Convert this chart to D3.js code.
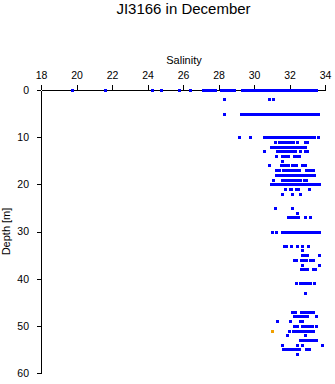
<!DOCTYPE html>
<html>
<head>
<meta charset="utf-8">
<script src="https://cdn.jsdelivr.net/npm/d3@7"></script>
<style>
  html, body { margin: 0; padding: 0; background: #fff; }
  svg { display: block; font-family: "Liberation Sans", Arial, Helvetica, sans-serif; }
</style>
</head>
<body>
<svg id="chart" width="335" height="384"></svg>
<script>
// Salinity profile samples, grouped by depth level (m)
const depthLevels = [0, 2, 5, 10, 11, 12, 13, 14, 15, 16, 17, 18, 19, 20, 21, 22,
  25, 26, 27, 30, 33, 34, 35, 36, 37, 38, 41, 43, 47, 48, 49, 50, 51, 52, 53, 54, 55, 56];

const salinityByDepth = [
  [19.75, 21.58, 24.25, 24.76, 25.75, 26.41, 27.1, 27.25, 27.4, 27.55, 27.7, 27.8, 28.12, 28.27, 28.42, 28.57, 28.72, 28.9,
   29.35, 29.5, 29.65, 29.8, 29.95, 30.1, 30.25, 30.4, 30.55, 30.7, 30.85, 31.0, 31.15, 31.3, 31.45, 31.6, 31.75, 31.9,
   32.05, 32.2, 32.35, 32.5, 32.65, 32.8, 32.95, 33.1, 33.25, 33.4, 33.47],
  [28.29, 30.82, 31.05],
  [28.29, 29.25, 29.46, 29.6, 29.75, 29.9, 30.05, 30.2, 30.35, 30.5, 30.65, 30.8, 30.95, 31.1, 31.25, 31.4, 31.55, 31.7,
   31.85, 32.0, 32.15, 32.3, 32.45, 32.6, 32.75, 32.9, 33.05, 33.2, 33.35, 33.5, 33.6],
  [29.17, 29.8, 30.54, 30.7, 30.85, 31.0, 31.15, 31.3, 31.45, 31.6, 31.75, 31.9, 32.05, 32.2, 32.35, 32.5, 32.65, 32.8,
   32.95, 33.1, 33.25, 33.4, 33.6],
  [31.2, 31.4, 31.55, 31.7, 31.85, 32.0, 32.15, 32.2, 32.42, 32.9, 33.0],
  [30.95, 31.1, 31.25, 31.4, 31.55, 31.7, 31.85, 32.0, 32.15, 32.3, 32.45, 32.6, 32.75, 32.85],
  [30.56, 31.28, 31.43, 31.58, 31.73, 31.88, 32.03, 32.18, 32.33, 32.59, 32.88, 32.98],
  [31.22, 31.6, 31.75, 31.9, 32.27, 32.4, 32.52],
  [31.57],
  [30.83, 31.52, 31.67, 31.82, 31.9, 32.13, 32.28, 32.38, 32.68, 32.82, 32.9],
  [31.22, 31.39, 31.63, 31.78, 31.93, 32.08, 32.23, 32.38, 32.52, 32.92, 33.07, 33.2, 33.32],
  [31.25, 31.4, 31.55, 31.7, 31.85, 32.0, 32.15, 32.3, 32.45, 32.6, 32.75, 32.9, 33.05, 33.2, 33.36],
  [31.05, 31.57, 31.72, 31.87, 32.02, 32.17, 32.32, 32.47, 32.58, 32.8, 32.92],
  [30.95, 31.1, 31.25, 31.4, 31.55, 31.7, 31.85, 32.0, 32.15, 32.3, 32.45, 32.6, 32.75, 32.9, 33.05, 33.2, 33.35, 33.5, 33.65],
  [31.75, 32.0, 32.1, 32.35, 32.5, 33.1],
  [31.6, 32.12, 32.57],
  [31.2, 32.12],
  [32.4],
  [31.9, 32.05, 32.2, 32.35, 32.47, 32.9, 33.15],
  [31.0, 31.25, 31.57, 31.72, 31.87, 32.02, 32.17, 32.32, 32.47, 32.62, 32.77, 32.92, 33.07, 33.22, 33.37, 33.52, 33.65],
  [31.68, 31.83, 32.07, 32.42, 32.72, 33.05],
  [32.68],
  [32.7, 32.85, 32.97, 33.65],
  [32.23, 32.37, 32.65, 32.8, 32.93, 33.15, 33.3],
  [32.68, 33.65],
  [32.65, 32.8, 32.96, 33.3, 33.43],
  [32.35, 32.58, 32.73, 32.88, 33.03, 33.18, 33.37],
  [32.85],
  [32.13, 32.3, 32.64, 32.79, 32.94, 33.09, 33.2, 33.33],
  [32.28, 32.43, 32.58, 32.73, 32.88, 33.0, 33.47],
  [31.28, 32.0, 32.58, 32.68],
  [32.28, 32.45, 32.68, 32.83, 32.98, 33.13, 33.28, 33.48],
  [31.95, 32.17, 32.38, 32.53, 32.68, 32.83, 32.98, 33.13, 33.3],
  [31.85, 32.85],
  [32.58, 32.73, 32.88, 33.03, 33.18, 33.33, 33.48],
  [31.6, 32.45, 32.7, 33.83],
  [31.66, 31.81, 31.96, 32.11, 32.26, 32.41, 32.52, 32.92, 33.1],
  [32.4]
];

// Flagged sample
const flaggedDepth = [51];
const flaggedSalinity = [31.0];

const salinityTicks = [18, 20, 22, 24, 26, 28, 30, 32, 34];
const depthTicks = [0, 10, 20, 30, 40, 50, 60];

const svg = d3.select("#chart");

const x = d3.scaleLinear().domain([18, 34]).range([41, 325]);
const y = d3.scaleLinear().domain([0, 60]).range([90, 373]);

// Title
svg.append("text")
  .attr("x", 183.5).attr("y", 13.5)
  .attr("text-anchor", "middle")
  .attr("font-size", 15)
  .attr("fill", "#000")
  .text("JI3166 in December");

// Salinity axis on top
const xAxis = svg.append("g")
  .attr("transform", `translate(0,${y(0)})`)
  .call(d3.axisTop(x).tickValues(salinityTicks).tickSize(5).tickSizeOuter(0).tickPadding(6));

svg.append("text")
  .attr("x", 184).attr("y", 64)
  .attr("text-anchor", "middle")
  .attr("font-size", 11)
  .text("Salinity");

// Depth axis on left
const yAxis = svg.append("g")
  .attr("transform", `translate(${x(18)},0)`)
  .call(d3.axisLeft(y).tickValues(depthTicks).tickSize(4).tickSizeOuter(0).tickPadding(8));

svg.append("text")
  .attr("transform", `translate(9.5,${(y(0) + y(60)) / 2}) rotate(-90)`)
  .attr("text-anchor", "middle")
  .attr("font-size", 11)
  .text("Depth [m]");

[xAxis, yAxis].forEach(g => {
  g.selectAll("path, line").attr("stroke", "#000").attr("stroke-width", 1)
    .attr("shape-rendering", "crispEdges");
  g.selectAll("text").attr("font-size", 10.5).attr("fill", "#000")
    .attr("font-family", "\"Liberation Sans\", Arial, sans-serif");
});

// Sample markers
const samples = [];
depthLevels.forEach((d, i) => {
  salinityByDepth[i].forEach(s => samples.push({ depth: d, salinity: s }));
});

const size = 3;
svg.append("g")
  .selectAll("rect")
  .data(samples)
  .join("rect")
  .attr("x", d => Math.round(x(d.salinity)) - 1)
  .attr("y", d => Math.round(y(d.depth)) - 1)
  .attr("width", size)
  .attr("height", size)
  .attr("fill", "#0000ff");

svg.append("g")
  .selectAll("rect")
  .data(flaggedDepth.map((d, i) => ({ depth: d, salinity: flaggedSalinity[i] })))
  .join("rect")
  .attr("x", d => Math.round(x(d.salinity)) - 1)
  .attr("y", d => Math.round(y(d.depth)) - 1)
  .attr("width", size)
  .attr("height", size)
  .attr("fill", "#f0a000");
</script>
</body>
</html>
